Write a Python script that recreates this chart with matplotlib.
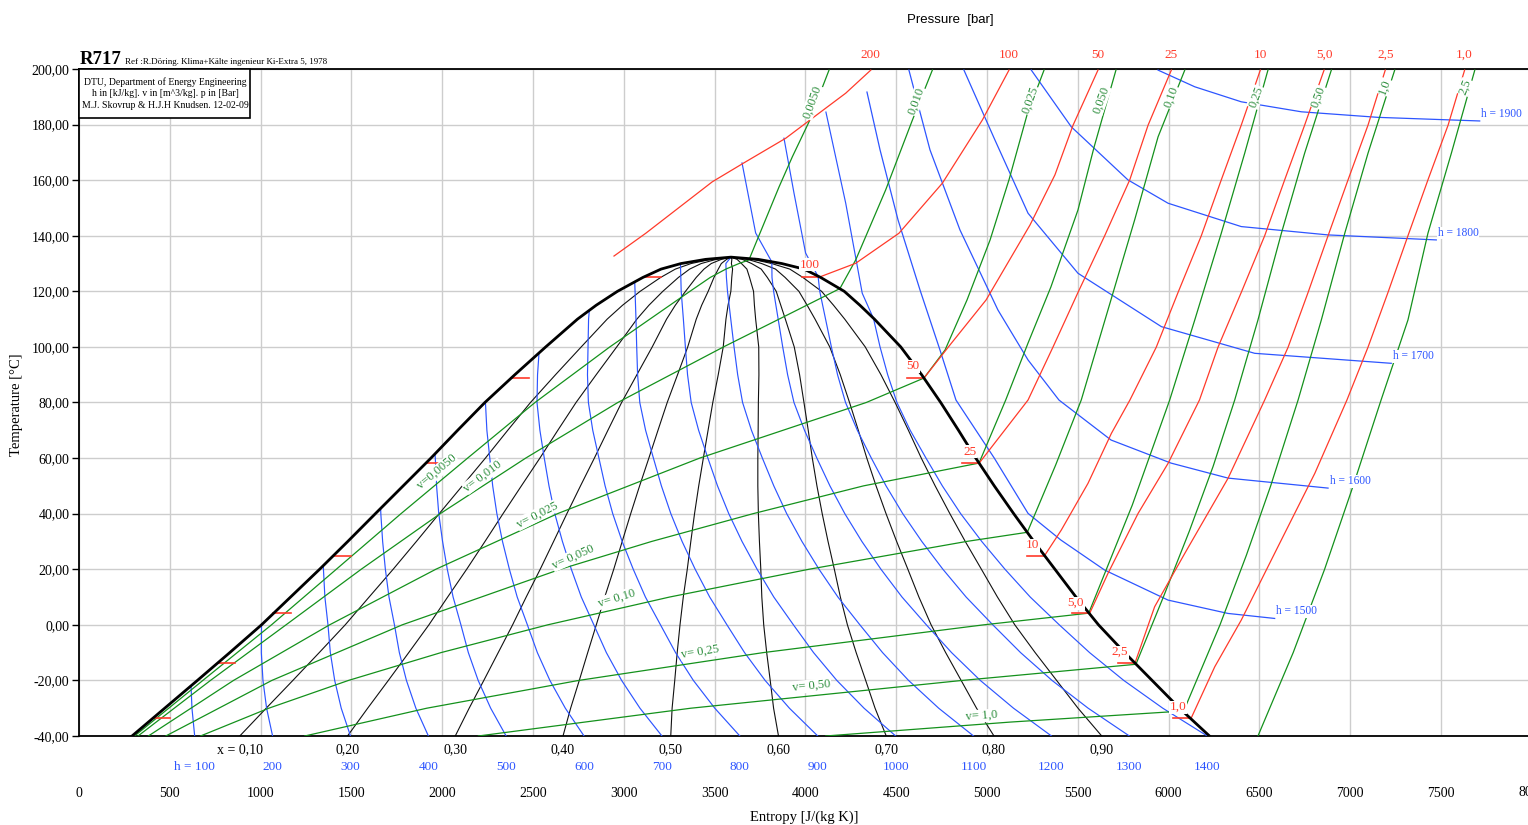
import numpy as np
import matplotlib
matplotlib.use("Agg")
import matplotlib.pyplot as plt
from matplotlib.patches import Rectangle

plt.rcParams['font.family'] = ['Liberation Serif', 'DejaVu Serif']

# ---------------- data (s in J/(kg K), T in degC) ----------------
DOME_T = [-40, -30, -20, -10, 0, 10, 20, 30, 40, 50, 60, 70, 80, 90, 100, 110, 115, 120, 125, 128, 130, 131.5, 132.3]
DOME_S_LIQ = [292, 472, 652, 830, 1005, 1165, 1325, 1480, 1632, 1785, 1938, 2085, 2235, 2400, 2570, 2745, 2848, 2965, 3105, 3205, 3315, 3450, 3590]
DOME_S_VAP = [6225, 6060, 5909, 5758, 5614, 5490, 5374, 5258, 5147, 5040, 4938, 4843, 4745, 4640, 4525, 4380, 4300, 4214, 4084, 3993, 3870, 3740, 3590]

QUALITIES = [0.1, 0.2, 0.3, 0.4, 0.5, 0.6, 0.7, 0.8, 0.9]
QUALITY_LABELS = ["x = 0,10", "0,20", "0,30", "0,40", "0,50", "0,60", "0,70", "0,80", "0,90"]

# isenthalps (h in kJ/kg)
H100_S = [637, 622, 617]
H100_T = [-40, -30, -22]
H200_S = [1066, 1033, 1013, 1004, 1005]
H200_T = [-40, -30, -20, -10, 0]
H300_S = [1495, 1444, 1408, 1384, 1371, 1354, 1346, 1345]
H300_T = [-40, -30, -20, -10, 0, 10, 20, 21.3]
H400_S = [1924, 1855, 1803, 1764, 1737, 1707, 1687, 1672, 1662, 1661]
H400_T = [-40, -30, -20, -10, 0, 10, 20, 30, 40, 41.9]
H500_S = [2352, 2267, 2198, 2144, 2103, 2060, 2028, 2002, 1981, 1969, 1962, 1960]
H500_T = [-40, -30, -20, -10, 0, 10, 20, 30, 40, 50, 60, 61.5]
H600_S = [2781, 2678, 2593, 2524, 2469, 2413, 2370, 2332, 2301, 2278, 2262, 2246, 2238]
H600_T = [-40, -30, -20, -10, 0, 10, 20, 30, 40, 50, 60, 70, 80.2]
H700_S = [3210, 3089, 2988, 2904, 2835, 2766, 2711, 2662, 2620, 2588, 2562, 2538, 2522, 2525, 2533]
H700_T = [-40, -30, -20, -10, 0, 10, 20, 30, 40, 50, 60, 70, 80, 90, 97.8]
H800_S = [3639, 3501, 3383, 3285, 3202, 3119, 3052, 2991, 2939, 2897, 2863, 2829, 2805, 2800, 2803, 2806, 2810]
H800_T = [-40, -30, -20, -10, 0, 10, 20, 30, 40, 50, 60, 70, 80, 90, 100, 110, 113.1]
H900_S = [4068, 3912, 3778, 3665, 3568, 3473, 3393, 3321, 3259, 3207, 3163, 3120, 3088, 3076, 3071, 3067, 3062, 3060]
H900_T = [-40, -30, -20, -10, 0, 10, 20, 30, 40, 50, 60, 70, 80, 90, 100, 110, 120, 123.5]
H1000_S = [4497, 4323, 4173, 4045, 3934, 3826, 3734, 3651, 3578, 3516, 3463, 3412, 3371, 3351, 3339, 3328, 3316, 3314, 3312]
H1000_T = [-40, -30, -20, -10, 0, 10, 20, 30, 40, 50, 60, 70, 80, 90, 100, 110, 120, 125, 129.6]
H1100_S = [4926, 4734, 4568, 4425, 4300, 4179, 4075, 3981, 3897, 3826, 3763, 3703, 3654, 3627, 3607, 3589, 3571, 3565, 3562, 3590]
H1100_T = [-40, -30, -20, -10, 0, 10, 20, 30, 40, 50, 60, 70, 80, 90, 100, 110, 120, 125, 130, 132.3]
H1200_S = [5355, 5146, 4963, 4805, 4666, 4532, 4416, 4311, 4217, 4135, 4063, 3995, 3937, 3902, 3875, 3850, 3825, 3816, 3815, 3726, 3651]
H1200_T = [-40, -30, -20, -10, 0, 10, 20, 30, 40, 50, 60, 70, 80, 90, 100, 110, 120, 125, 130.6, 141.0, 166.2]
H1300_S = [5784, 5557, 5358, 5185, 5032, 4885, 4757, 4641, 4536, 4444, 4363, 4286, 4221, 4177, 4143, 4111, 4079, 4070, 4001, 3937, 3882]
H1300_T = [-40, -30, -20, -10, 0, 10, 20, 30, 40, 50, 60, 70, 80, 90, 100, 110, 120, 125.3, 133.8, 155.4, 175.1]
H1400_S = [6213, 5968, 5753, 5565, 5398, 5238, 5099, 4971, 4855, 4754, 4664, 4577, 4504, 4453, 4411, 4375, 4313, 4222, 4113]
H1400_T = [-40, -30, -20, -10, 0, 10, 20, 30, 40, 50, 60, 70, 80, 90, 100, 110.2, 119.3, 151.7, 184.5]
H1500_S = [4339, 4411, 4510, 4631, 4741, 4829, 5040, 5226, 5407, 5648, 5997, 6327, 6584]
H1500_T = [191.7, 170.9, 145.7, 120.5, 98.9, 80.9, 60, 40.1, 30.5, 19.7, 8.9, 4.1, 2.3]
H1600_S = [4570, 4686, 4851, 5060, 5226, 5396, 5683, 6013, 6327, 6878]
H1600_T = [199.6, 170.9, 142.1, 113.3, 95.3, 80.9, 66.5, 58.2, 52.8, 49.2]
H1700_S = [4873, 5044, 5226, 5501, 5960, 6474, 7226]
H1700_T = [199.6, 174.4, 148.1, 126.5, 107.3, 97.7, 94.1]
H1800_S = [5244, 5464, 5776, 5997, 6400, 6878, 7474]
H1800_T = [199.6, 179.2, 160.1, 151.7, 143.3, 140.3, 138.5]
H1900_S = [5942, 6144, 6400, 6731, 7153, 7713]
H1900_T = [199.6, 193.6, 188.2, 184.6, 182.6, 181.3]
ENTH_LOW_LABELS = ["h = 100", "200", "300", "400", "500", "600", "700", "800", "900",
                   "1000", "1100", "1200", "1300", "1400"]
ENTH_HIGH_LABELS = ["h = 1500", "h = 1600", "h = 1700", "h = 1800", "h = 1900"]

# isochores (v in m^3/kg): two-phase part and superheated part
V0050_S = [306, 682, 1060, 1417, 1773, 2140, 2511, 2923, 3364, 3476, 3562, 3634, 3689, 3855, 3928, 4020, 4130]
V0050_T = [-40, -20, 0, 20, 40, 60, 80, 100, 120, 125, 128, 130, 131.3, 157.6, 168.4, 181.0, 199.6]
V010_S = [325, 724, 1140, 1554, 1989, 2460, 2967, 3549, 3855, 4190, 4277, 4442, 4589, 4699]
V010_T = [-40, -20, 0, 20, 40, 60, 80, 100, 110, 121, 131.3, 156.5, 181.6, 199.6]
V025_S = [382, 851, 1380, 1965, 2635, 3418, 4335, 4653, 4769, 4890, 5017, 5121, 5220, 5314]
V025_T = [-40, -20, 0, 20, 40, 60, 80, 88.8, 98.9, 116.9, 138.5, 160.1, 183.4, 199.6]
V050_S = [478, 1062, 1780, 2650, 3153, 3712, 4320, 4956, 5103, 5226, 5352, 5501, 5590, 5710]
V050_T = [-40, -20, 0, 20, 30, 40, 50, 58.2, 80.9, 101.4, 121.6, 149.3, 172.0, 199.6]
V10_S = [669, 1045, 1484, 1993, 2581, 3252, 4020, 4887, 5222, 5378, 5519, 5666, 5813, 5942, 6089]
V10_T = [-40, -30, -20, -10, 0, 10, 20, 30, 33.3, 57.5, 80.9, 113.3, 145.7, 175.6, 199.6]
V25_S = [1243, 1915, 2752, 3767, 4982, 5560, 5800, 6006, 6144, 6290, 6419, 6547]
V25_T = [-40, -30, -20, -10, 0, 4.2, 43.1, 80.9, 109.7, 140.9, 169.7, 199.6]
V50_S = [2199, 3369, 4864, 5820, 5971, 6114, 6245, 6364, 6492, 6621, 6749, 6896]
V50_T = [-40, -30, -20, -14.2, 10, 33.7, 57, 80.9, 109.7, 140.9, 169.7, 199.6]
V100_S = [4112, 5126, 6083, 6283, 6428, 6562, 6713, 6841, 6970, 7098, 7245]
V100_T = [-40, -35, -31, 0, 25, 50, 80.9, 109.7, 140.9, 169.7, 199.6]
V250_S = [6492, 6686, 6859, 7016, 7170, 7318, 7428, 7557, 7686]
V250_T = [-40, -10, 20, 50, 80.9, 109.7, 140.9, 169.7, 199.6]

# isobars (p in bar), superheated / supercritical part
P10_S = [6124, 6254, 6400, 6602, 6805, 6982, 7098, 7208, 7318, 7428, 7539, 7630]
P10_T = [-33.6, -15.1, 1.7, 28.1, 54.5, 80.9, 99.9, 119.6, 140.0, 160.1, 179.8, 199.6]
P25_S = [5815, 5923, 6089, 6327, 6529, 6658, 6768, 6878, 6988, 7098, 7193]
P25_T = [-13.7, 6.5, 25.7, 52.7, 80.9, 99.9, 119.6, 140.0, 160.1, 179.8, 199.6]
P50_S = [5565, 5666, 5832, 5997, 6170, 6272, 6400, 6529, 6639, 6749, 6856]
P50_T = [4.1, 18.5, 40.1, 58.1, 80.9, 99.9, 119.6, 140.0, 160.1, 179.8, 199.6]
P100_S = [5317, 5409, 5556, 5685, 5787, 5932, 6052, 6180, 6290, 6400, 6505]
P100_T = [24.9, 34.1, 50.9, 68.9, 80.9, 99.9, 119.6, 140.0, 160.1, 179.8, 199.6]
P250_S = [4957, 5226, 5363, 5501, 5648, 5786, 5887, 6015]
P250_T = [58.2, 80.9, 99.9, 119.6, 140.0, 160.1, 179.8, 199.6]
P500_S = [4653, 4796, 4995, 5237, 5374, 5474, 5611]
P500_T = [88.8, 100.7, 116.9, 143.9, 161.9, 179.8, 199.6]
P1000_S = [4080, 4277, 4515, 4754, 4974, 5121]
P1000_T = [125.2, 130.1, 140.9, 158.9, 181.6, 199.6]
P2000_S = [2946, 3121, 3487, 3671, 3892, 4075, 4222, 4360]
P2000_T = [132.7, 140.9, 159.4, 166.6, 175.1, 184.1, 191.3, 199.6]
PRESSURE_LABELS = ["1,0", "2,5", "5,0", "10", "25", "50", "100", "200"]
PRESSURE_TSAT = [-33.6, -13.7, 4.1, 24.9, 58.2, 88.8, 125.2]

X_TICKS = [0, 500, 1000, 1500, 2000, 2500, 3000, 3500, 4000, 4500, 5000, 5500, 6000, 6500, 7000, 7500]
Y_TICKS = [-40, -20, 0, 20, 40, 60, 80, 100, 120, 140, 160, 180, 200]

# ---------------- styling ----------------
BLUE = '#2d55ff'
RED = '#ff3a2a'
GREEN = '#14911c'
LGREEN = '#2f8f3f'
W, H = 1528, 825

fig = plt.figure(figsize=(W / 100, H / 100), dpi=100)
ax = fig.add_axes([79 / W, 1 - 736 / H, (W - 79) / W, 667 / H])
ax.set_xlim(0, 7979)
ax.set_ylim(-40, 200)
ax.set_xticks(X_TICKS)
ax.set_yticks(Y_TICKS)
ax.set_yticklabels([f"{v:.2f}".replace('.', ',') for v in Y_TICKS], fontsize=10)
ax.set_xticklabels([str(v) for v in X_TICKS], fontsize=10)
ax.tick_params(axis='x', length=0, pad=37)
ax.tick_params(axis='y', length=5, width=1, direction='out', pad=2)
ax.grid(True, color='#cdcdcd', lw=1.0, zorder=0)
ax.set_axisbelow(True)
for sp in ['left', 'bottom', 'top']:
    ax.spines[sp].set_linewidth(1.3)
ax.spines['right'].set_visible(False)

xt = ax.get_xaxis_transform()
# the 8000 tick label sits on the right figure edge (cut, as in the original)
ax.text(8000, -(793 - 736) / 667, "8000", transform=xt, ha='center', va='center',
        fontsize=10, clip_on=False)

# dome
dT = np.array(DOME_T)
sl = np.array(DOME_S_LIQ)
sv = np.array(DOME_S_VAP)

# quality lines
for q, lab in zip(QUALITIES, QUALITY_LABELS):
    sq = sl + q * (sv - sl)
    ax.plot(sq, dT, color='#111111', lw=0.8, zorder=2)
    ax.text(sq[0], -(750 - 736) / 667, lab, transform=xt, ha='center', va='center',
            fontsize=10, clip_on=False)

# isenthalps
low_h = [(H100_S, H100_T), (H200_S, H200_T), (H300_S, H300_T), (H400_S, H400_T),
         (H500_S, H500_T), (H600_S, H600_T), (H700_S, H700_T), (H800_S, H800_T),
         (H900_S, H900_T), (H1000_S, H1000_T), (H1100_S, H1100_T), (H1200_S, H1200_T),
         (H1300_S, H1300_T), (H1400_S, H1400_T)]
for (S, T), lab in zip(low_h, ENTH_LOW_LABELS):
    ax.plot(S, T, color=BLUE, lw=0.85, zorder=3)
    ax.text(S[0], -(767 - 736) / 667, lab, transform=xt, ha='center', va='center',
            fontsize=9.5, color=BLUE, clip_on=False)
high_h = [(H1500_S, H1500_T), (H1600_S, H1600_T), (H1700_S, H1700_T),
          (H1800_S, H1800_T), (H1900_S, H1900_T)]
for (S, T), lab in zip(high_h, ENTH_HIGH_LABELS):
    ax.plot(S, T, color=BLUE, lw=0.9, zorder=3)
    ax.text(S[-1] + 8, T[-1] + 2.5, lab, ha='left', va='center', fontsize=8.3,
            color=BLUE, zorder=7, bbox=dict(facecolor='white', edgecolor='none', pad=0.3))

# isochores
vols = [(V0050_S, V0050_T), (V010_S, V010_T), (V025_S, V025_T), (V050_S, V050_T),
        (V10_S, V10_T), (V25_S, V25_T), (V50_S, V50_T), (V100_S, V100_T), (V250_S, V250_T)]
for S, T in vols:
    ax.plot(S, T, color=GREEN, lw=0.9, zorder=3)

# isobars
isobars = [(P10_S, P10_T), (P25_S, P25_T), (P50_S, P50_T), (P100_S, P100_T),
           (P250_S, P250_T), (P500_S, P500_T), (P1000_S, P1000_T), (P2000_S, P2000_T)]
for (S, T), lab in zip(isobars, PRESSURE_LABELS):
    ax.plot(S, T, color=RED, lw=0.9, zorder=3)
    ax.text(S[-1], 1 + 14 / 667, lab, transform=xt, ha='center', va='center',
            fontsize=9.5, color=RED, clip_on=False)

# isobar stubs in two-phase region
for ts in PRESSURE_TSAT:
    a = np.interp(ts, dT, sl)
    b = np.interp(ts, dT, sv)
    ax.plot([a, a + 95], [ts, ts], color=RED, lw=1.2, zorder=4)
    ax.plot([b - 95, b], [ts, ts], color=RED, lw=1.2, zorder=4)

# saturation dome
ax.plot(np.concatenate([sl, sv[::-1]]), np.concatenate([dT, dT[::-1]]),
        color='black', lw=2.0, zorder=5, solid_joinstyle='round')

box = dict(facecolor='white', edgecolor='none', pad=0.4)
# pressure labels at the dome
dome_p_lab = [(6052, -29.6, "1,0"), (5732, -9.8, "2,5"), (5490, 7.8, "5,0"),
              (5253, 28.7, "10"), (4906, 62.2, "25"), (4592, 93.1, "50"), (4025, 129.5, "100")]
for s, t, lab in dome_p_lab:
    ax.text(s, t, lab, ha='center', va='center', fontsize=9.5, color=RED, zorder=7, bbox=box)

# isochore labels in the two-phase region
v_lab_dome = [(1971, 55.0, "v=0,0050", 40), (2225, 53.5, "v= 0,010", 37),
              (2522, 39.5, "v= 0,025", 27), (2720, 24.4, "v= 0,050", 24),
              (2963, 9.6, "v= 0,10", 17), (3420, -9.8, "v= 0,25", 9),
              (4036, -22.0, "v= 0,50", 6), (4972, -32.8, "v= 1,0", 4)]
for s, t, lab, r in v_lab_dome:
    ax.text(s, t, lab, ha='center', va='center', fontsize=9, color=LGREEN, rotation=r,
            rotation_mode='anchor', zorder=7, bbox=box)
v_lab_top = [(4036, 188.1, "0,0050"), (4609, 188.5, "0,010"), (5237, 188.8, "0,025"),
             (5628, 188.8, "0,050"), (6013, 189.9, "0,10"), (6481, 189.9, "0,25"),
             (6823, 189.9, "0,50"), (7192, 193.5, "1,0"), (7632, 193.5, "2,5")]
for s, t, lab in v_lab_top:
    ax.text(s, t, lab, ha='center', va='center', fontsize=9, color=LGREEN, rotation=70,
            rotation_mode='anchor', zorder=7, bbox=box)

# info box
ax.add_patch(Rectangle((0, 1 - 49 / 667), 171 / 1449, 49 / 667, transform=ax.transAxes,
                       facecolor='white', edgecolor='black', lw=1.2, zorder=8, clip_on=False))
info = ["DTU, Department of Energy Engineering",
        "h in [kJ/kg]. v in [m^3/kg]. p in [Bar]",
        "M.J. Skovrup & H.J.H Knudsen. 12-02-09"]
for i, line in enumerate(info):
    fig.text(165 / W, 1 - (82 + 12 * i) / H, line, ha='center', va='center', fontsize=7, zorder=9)

fig.text(80 / W, 1 - 64 / H, "R717", fontsize=13.5, weight='bold', va='baseline')
fig.text(125 / W, 1 - 64 / H, "Ref :R.Döring. Klima+Kälte ingenieur Ki-Extra 5, 1978",
         fontsize=6.5, va='baseline')
fig.text(950 / W, 1 - 20 / H, "Pressure  [bar]", ha='center', va='center', fontsize=9.5,
         family=['Liberation Sans', 'DejaVu Sans'])
fig.text(804 / W, 1 - 817 / H, "Entropy [J/(kg K)]", ha='center', va='center', fontsize=10.5)
fig.text(17 / W, 1 - 405 / H, "Temperature [°C]", ha='center', va='center', fontsize=10.5,
         rotation=90)

fig.savefig("out.png", dpi=100)
